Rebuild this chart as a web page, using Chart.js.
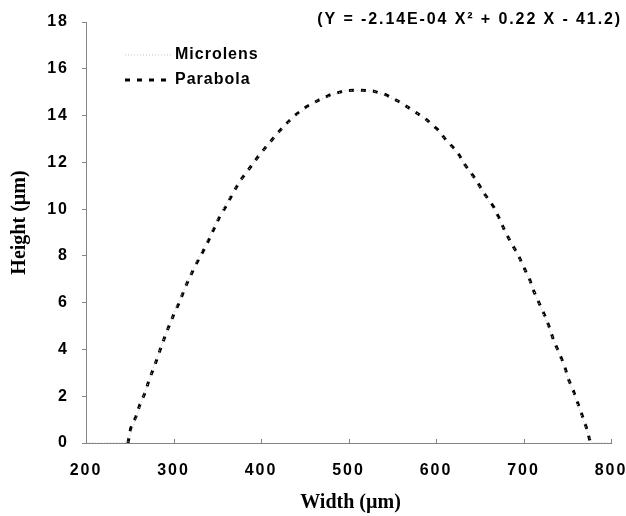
<!DOCTYPE html>
<html>
<head>
<meta charset="utf-8">
<script src="https://cdn.jsdelivr.net/npm/chart.js@4/dist/chart.umd.min.js"></script>
<style>
  html, body { margin: 0; padding: 0; background: #fff; }
  #wrap { width: 626px; height: 516px; }
</style>
</head>
<body>
<div id="wrap"><canvas id="lensChart"></canvas></div>
<script>
const microlensX = [200, 220, 240, 248, 258, 272, 288, 306, 325, 345, 367, 388, 410, 435, 465, 497, 528, 558, 588, 612, 633, 656, 679, 700, 718, 735, 751, 766, 778, 790, 800];
const microlensY = [0, 0, 0, 0.05, 1.15, 2.7, 4.35, 6.05, 7.65, 9.2, 10.7, 11.8, 12.85, 13.85, 14.65, 15.07, 15.05, 14.6, 13.85, 12.95, 11.9, 10.6, 9.05, 7.55, 5.95, 4.35, 2.75, 1.2, 0, 0, 0];

const parabolaX = [248, 251, 257, 262, 268, 272, 278, 283, 288, 293, 300, 307, 313, 319, 326, 333, 340, 352, 360, 368, 377, 388, 397, 407, 417, 428, 439, 452, 466, 480, 497, 511, 528, 542, 558, 572, 588, 602, 612, 624, 633, 645, 656, 666, 673, 679, 686, 694, 700, 707, 712, 718, 725, 730, 735, 741, 747, 751, 757, 762, 767, 772, 776];
const parabolaY = [0, 0.62, 1.12, 1.69, 2.19, 2.69, 3.26, 3.8, 4.33, 4.83, 5.47, 6.04, 6.62, 7.12, 7.66, 8.14, 8.65, 9.62, 10.12, 10.69, 11.26, 11.8, 12.26, 12.72, 13.16, 13.62, 14.02, 14.38, 14.66, 14.9, 15.07, 15.09, 15.05, 14.9, 14.59, 14.26, 13.86, 13.4, 12.93, 12.47, 11.9, 11.29, 10.62, 10.09, 9.55, 9.04, 8.55, 8.04, 7.54, 7.0, 6.47, 5.97, 5.4, 4.9, 4.33, 3.83, 3.29, 2.76, 2.23, 1.71, 1.19, 0.64, 0.09];

const seriesNames = ['Microlens', 'Parabola'];
const xTicks = [200, 300, 400, 500, 600, 700, 800];
const yTicks = [0, 2, 4, 6, 8, 10, 12, 14, 16, 18];
const xTitle = 'Width (\u00B5m)';
const yTitle = 'Height (\u00B5m)';
const equationText = '(Y = -2.14E-04 X\u00B2 + 0.22 X - 41.2)';

const toPoints = (xs, ys) => xs.map((x, i) => ({ x, y: ys[i] }));

const SANS = '"Liberation Sans", Arial, sans-serif';
const SERIF = '"Liberation Serif", "Times New Roman", serif';
const AXIS_GREY = '#858585';

// letter spacing for the Excel-style bold tick labels
const spacingPlugin = {
  id: 'spacing',
  beforeUpdate(chart) { chart.ctx.letterSpacing = '2px'; },
  beforeDraw(chart) { chart.ctx.letterSpacing = '2px'; }
};

// inside tick marks on x axis, axis titles, legend inside the plot and the fit equation
const decorPlugin = {
  id: 'decor',
  afterDraw(chart) {
    const { ctx, chartArea, scales } = chart;
    ctx.save();
    ctx.strokeStyle = AXIS_GREY;
    ctx.lineWidth = 1;
    xTicks.forEach((v) => {
      const px = Math.round(scales.x.getPixelForValue(v)) + 0.5;
      ctx.beginPath();
      ctx.moveTo(px, chartArea.bottom);
      ctx.lineTo(px, chartArea.bottom - 4);
      ctx.stroke();
    });

    // axis titles (serif, no extra spacing)
    ctx.letterSpacing = '0px';
    ctx.fillStyle = '#000';
    ctx.font = 'bold 20px ' + SERIF;
    ctx.textAlign = 'center';
    ctx.textBaseline = 'middle';
    ctx.fillText(xTitle, (chartArea.left + chartArea.right) / 2 + 2, 503);
    ctx.save();
    ctx.translate(20, (chartArea.top + chartArea.bottom) / 2 - 10);
    ctx.rotate(-Math.PI / 2);
    ctx.fillText(yTitle, 0, 0);
    ctx.restore();

    // legend
    const ds = chart.data.datasets;
    const lx = chartArea.left + 39;
    const rows = [chartArea.top + 33, chartArea.top + 58];
    ctx.font = 'bold 16px ' + SANS;
    ctx.textAlign = 'left';
    ctx.letterSpacing = '1px';
    ds.forEach((d, i) => {
      ctx.beginPath();
      ctx.setLineDash(d.borderDash || []);
      ctx.strokeStyle = d.borderColor;
      ctx.lineWidth = d.borderWidth;
      ctx.moveTo(lx, rows[i]);
      ctx.lineTo(lx + 48, rows[i]);
      ctx.stroke();
      ctx.setLineDash([]);
      ctx.fillText(d.label, lx + 50, rows[i]);
    });

    // equation
    ctx.textAlign = 'right';
    ctx.letterSpacing = '1.9px';
    ctx.fillText(equationText, chart.width - 4, 20);
    ctx.restore();
  }
};

new Chart(document.getElementById('lensChart'), {
  type: 'line',
  data: {
    datasets: [
      {
        label: seriesNames[0],
        data: toPoints(microlensX, microlensY),
        borderColor: '#c4c4c4',
        borderWidth: 1,
        borderDash: [1, 2],
        pointRadius: 0,
        tension: 0,
      },
      {
        label: seriesNames[1],
        data: toPoints(parabolaX, parabolaY),
        borderColor: '#000',
        borderWidth: 3,
        borderDash: [5, 7],
        pointRadius: 0,
        tension: 0,
      },
    ],
  },
  options: {
    responsive: true,
    maintainAspectRatio: false,
    animation: false,
    layout: { padding: { top: 22, right: 15, bottom: 0, left: 0 } },
    plugins: {
      legend: { display: false },
      tooltip: { enabled: false },
    },
    scales: {
      x: {
        type: 'linear',
        min: 200,
        max: 800,
        afterBuildTicks: (scale) => { scale.ticks = xTicks.map((v) => ({ value: v })); },
        afterFit: (scale) => {
          scale.height = 73;
          scale.paddingLeft = 0;
          scale.paddingRight = 0;
        },
        border: { display: true, color: AXIS_GREY, width: 1 },
        grid: { display: false, drawTicks: false },
        ticks: {
          padding: 18,
          color: '#000',
          font: { family: SANS, size: 16, weight: 'bold' },
          maxRotation: 0,
        },
      },
      y: {
        min: 0,
        max: 18,
        afterBuildTicks: (scale) => { scale.ticks = yTicks.map((v) => ({ value: v })); },
        afterFit: (scale) => {
          scale.width = 86;
          scale.paddingTop = 0;
          scale.paddingBottom = 0;
        },
        border: { display: true, color: AXIS_GREY, width: 1 },
        grid: { drawOnChartArea: false, drawTicks: true, tickLength: 4, color: AXIS_GREY },
        ticks: {
          padding: 13,
          color: '#000',
          font: { family: SANS, size: 16, weight: 'bold' },
        },
      },
    },
  },
  plugins: [spacingPlugin, decorPlugin],
});
</script>
</body>
</html>
